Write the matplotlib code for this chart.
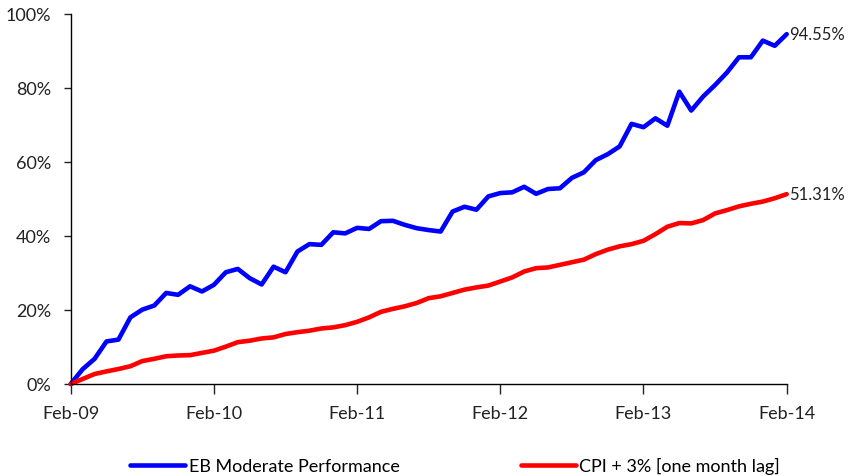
import matplotlib
matplotlib.use('Agg')
import matplotlib.pyplot as plt
from matplotlib.ticker import FuncFormatter

# monthly cumulative returns (%), Feb-09 .. Feb-14
months = list(range(61))
tick_labels = ['Feb-09', 'Feb-10', 'Feb-11', 'Feb-12', 'Feb-13', 'Feb-14']

eb_moderate = [0.0, 4.0, 6.8, 11.5, 12.0, 18.0, 20.1, 21.2, 24.6, 24.1,
               26.4, 25.0, 26.8, 30.2, 31.1, 28.6, 26.9, 31.7, 30.2, 35.8,
               37.8, 37.6, 41.0, 40.7, 42.2, 41.9, 44.0, 44.1, 43.0, 42.1,
               41.6, 41.2, 46.6, 47.9, 47.1, 50.7, 51.6, 51.8, 53.3, 51.4,
               52.7, 52.9, 55.7, 57.2, 60.5, 62.1, 64.2, 70.3, 69.4, 71.8,
               69.8, 79.0, 73.9, 77.7, 80.8, 84.2, 88.3, 88.3, 92.8, 91.4,
               94.55]

cpi_plus3 = [0.0, 1.35, 2.7, 3.4, 4.05, 4.8, 6.2, 6.8, 7.5, 7.7,
             7.8, 8.4, 9.0, 10.1, 11.3, 11.7, 12.3, 12.6, 13.5, 14.0,
             14.4, 15.0, 15.3, 15.9, 16.8, 18.0, 19.5, 20.3, 21.0, 21.9,
             23.2, 23.7, 24.6, 25.5, 26.1, 26.6, 27.7, 28.8, 30.4, 31.3,
             31.5, 32.2, 32.9, 33.6, 35.1, 36.3, 37.2, 37.8, 38.7, 40.5,
             42.5, 43.5, 43.4, 44.3, 46.1, 47.0, 48.0, 48.7, 49.3, 50.2,
             51.31]

plt.rcParams['font.family'] = ['Lato', 'DejaVu Sans']
plt.rcParams['font.size'] = 13

fig = plt.figure(figsize=(8.49, 4.77), dpi=100)
ax = fig.add_axes([0.0833, 0.1929, 0.8433, 0.7757])

ax.plot(months, eb_moderate, color='#0000FF', lw=3.3, solid_joinstyle='round',
        solid_capstyle='round', clip_on=False, label='EB Moderate Performance')
ax.plot(months, cpi_plus3, color='#FF0000', lw=3.3, solid_joinstyle='round',
        solid_capstyle='round', clip_on=False, label='CPI + 3% [one month lag]')

# end labels
for series in (eb_moderate, cpi_plus3):
    ax.annotate('%.2f%%' % series[-1], xy=(months[-1], series[-1]),
                xytext=(2, 0), textcoords='offset points', va='center',
                ha='left', fontsize=12, color='#222222')

ax.set_xlim(0, 60)
ax.set_ylim(0, 100)
ax.set_xticks(range(0, 61, 12))
ax.set_xticklabels(tick_labels)
ax.set_yticks(range(0, 101, 20))
ax.yaxis.set_major_formatter(FuncFormatter(lambda v, p: '%d%%' % v))

for side in ('top', 'right'):
    ax.spines[side].set_visible(False)
for side in ('left', 'bottom'):
    ax.spines[side].set_linewidth(1.0)
ax.tick_params(axis='y', length=5, width=1.0, pad=9, colors='#222222')
ax.tick_params(axis='x', length=7, width=1.0, pad=8, colors='#222222')
ax.tick_params(labelsize=13)

fig.legend(loc='center', bbox_to_anchor=(455 / 849, 0.022), ncol=2,
           frameon=False, handlelength=3.05, handletextpad=0.2,
           columnspacing=6.7, fontsize=13)

fig.savefig('out.png', dpi=100)
